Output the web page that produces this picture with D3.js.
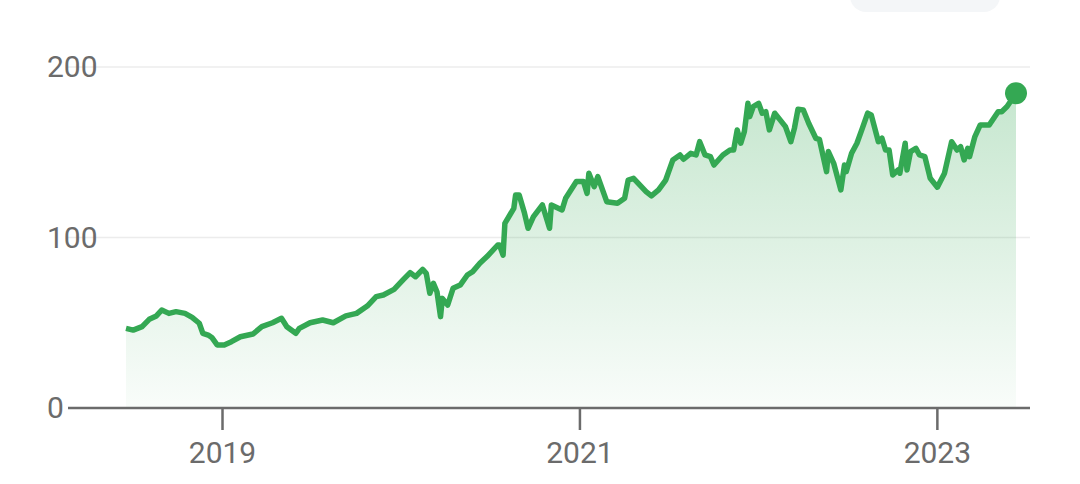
<!DOCTYPE html>
<html><head><meta charset="utf-8">
<script src="https://cdn.jsdelivr.net/npm/d3@7"></script>
<style>body{margin:0;background:#fff}svg{display:block}</style></head>
<body><svg id="c" width="1080" height="484"></svg>
<script>
const years = [2018.46,2018.50,2018.55,2018.59,2018.63,2018.66,2018.70,2018.74,2018.79,2018.83,2018.87,2018.89,2018.92,2018.94,2018.97,2019.01,2019.05,2019.10,2019.17,2019.22,2019.28,2019.33,2019.36,2019.41,2019.43,2019.49,2019.56,2019.62,2019.69,2019.75,2019.81,2019.86,2019.90,2019.96,2020.01,2020.05,2020.08,2020.12,2020.14,2020.16,2020.18,2020.20,2020.22,2020.23,2020.26,2020.29,2020.33,2020.37,2020.40,2020.44,2020.48,2020.54,2020.55,2020.57,
2020.58,2020.63,2020.64,2020.66,2020.69,2020.71,2020.74,2020.79,2020.83,2020.84,2020.90,2020.92,2020.98,2021.02,2021.04,2021.05,2021.08,2021.10,2021.15,2021.21,2021.25,2021.27,2021.30,2021.37,2021.40,2021.44,2021.48,2021.52,2021.56,2021.58,2021.62,2021.65,2021.67,2021.70,2021.73,2021.75,2021.80,2021.84,2021.86,2021.88,2021.90,2021.92,2021.94,2021.95,2021.97,2022.00,2022.02,2022.04,2022.06,2022.09,2022.12,2022.15,2022.18,2022.20,2022.22,2022.25,2022.28,2022.32,2022.34,2022.38,2022.39,2022.42,2022.46,2022.48,2022.49,2022.52,2022.55,2022.58,2022.61,2022.63,2022.67,2022.69,2022.71,2022.73,2022.75,2022.78,2022.79,2022.82,2022.83,2022.85,2022.88,2022.90,2022.93,2022.96,2023.00,2023.04,2023.08,2023.11,2023.13,2023.15,2023.17,2023.18,2023.21,2023.24,2023.29,2023.34,2023.36,2023.39,2023.44];
const prices = [46.7,45.7,47.7,52,54,57.5,55.5,56.5,55.5,53.2,49.7,43.8,42.8,41.4,37,37,38.9,41.8,43.4,47.7,50,52.6,47.7,43.8,46.7,50,51.6,50,54,55.5,59.8,65.3,66.3,69.6,75.1,79.4,77,81.3,79,67.3,73.1,68.2,53.6,64.3,60.4,70.2,72.1,78,80,84.9,88.8,95.6,95.6,89.7,
108.3,117.1,124.9,124.9,114.2,105.4,112.2,119.1,105.4,119.1,116.2,123,132.8,132.8,125.9,137.7,129.8,135.7,121,120.1,123,133.7,134.7,126.9,124.4,127.9,133.7,145.5,148.4,145.9,149.4,148.4,156.2,148.4,147.4,142.5,148.4,151.3,151.3,163.1,155.3,162.1,178.7,170.9,176.8,178.7,172.9,173.8,163.1,172.9,169,165,156.2,164,175.2,174.8,167,158.2,157.6,138.6,150.4,143.5,127.9,142.5,138.6,149.4,155.3,164,172.9,171.9,156.2,158.2,151.3,151.3,136.7,139.6,137.7,155.3,139.6,150.4,152.3,148.4,147.4,134.7,129.5,137.7,156.2,151.3,153.3,145.5,152.3,147.4,159.2,166,166,173.8,173.8,176.8,184.6];
const yTicks = [0,100,200];
const xTicks = [2019,2021,2023];
const xLabels = ["2019","2021","2023"];

const data = years.map((y,i)=>({x:y,v:prices[i]}));
const svg = d3.select("#c");
const x = d3.scaleLinear().domain([2018.46,2023.44]).range([126,1016]);
const y = d3.scaleLinear().domain([0,200]).range([408,67]);
const green="#34a853";

svg.append("rect").attr("x",850).attr("y",-20).attr("width",150).attr("height",32).attr("rx",16).attr("fill","#f4f6f8");

const defs=svg.append("defs");
const g=defs.append("linearGradient").attr("id","gr").attr("x1",0).attr("y1",0).attr("x2",0).attr("y2",1);
g.append("stop").attr("offset","0%").attr("stop-color",green).attr("stop-opacity",0.28);
g.append("stop").attr("offset","100%").attr("stop-color",green).attr("stop-opacity",0.03);

svg.selectAll(".grid").data(yTicks.slice(1)).join("line")
 .attr("x1",68).attr("x2",1030).attr("y1",d=>y(d)).attr("y2",d=>y(d))
 .attr("stroke","#ececec").attr("stroke-width",1.5);

svg.append("path").datum(data)
 .attr("d",d3.area().x(d=>x(d.x)).y0(y(0)).y1(d=>y(d.v)))
 .attr("fill","url(#gr)");

svg.selectAll(".yl").data(yTicks).join("text")
 .attr("x",47).attr("y",d=>y(d)+10)
 .attr("font-family","Roboto, sans-serif").attr("font-size",30).attr("fill","#6b6b6b")
 .text(d=>d);

svg.append("line").attr("x1",68).attr("x2",1030).attr("y1",y(0)).attr("y2",y(0))
 .attr("stroke","#6b6b6b").attr("stroke-width",2.5);
svg.selectAll(".xt").data(xTicks).join("line")
 .attr("x1",d=>x(d)).attr("x2",d=>x(d)).attr("y1",y(0)).attr("y2",430)
 .attr("stroke","#6b6b6b").attr("stroke-width",2.5);
svg.selectAll(".xl").data(xTicks).join("text")
 .attr("x",d=>x(d)).attr("y",463).attr("text-anchor","middle")
 .attr("font-family","Roboto, sans-serif").attr("font-size",30).attr("fill","#6b6b6b")
 .text((d,i)=>xLabels[i]);

svg.append("path").datum(data)
 .attr("d",d3.line().x(d=>x(d.x)).y(d=>y(d.v)))
 .attr("fill","none").attr("stroke",green).attr("stroke-width",5.5).attr("stroke-linejoin","round");

const last=data[data.length-1];
svg.append("circle").attr("cx",x(last.x)).attr("cy",y(last.v)).attr("r",11).attr("fill",green);
</script></body></html>
